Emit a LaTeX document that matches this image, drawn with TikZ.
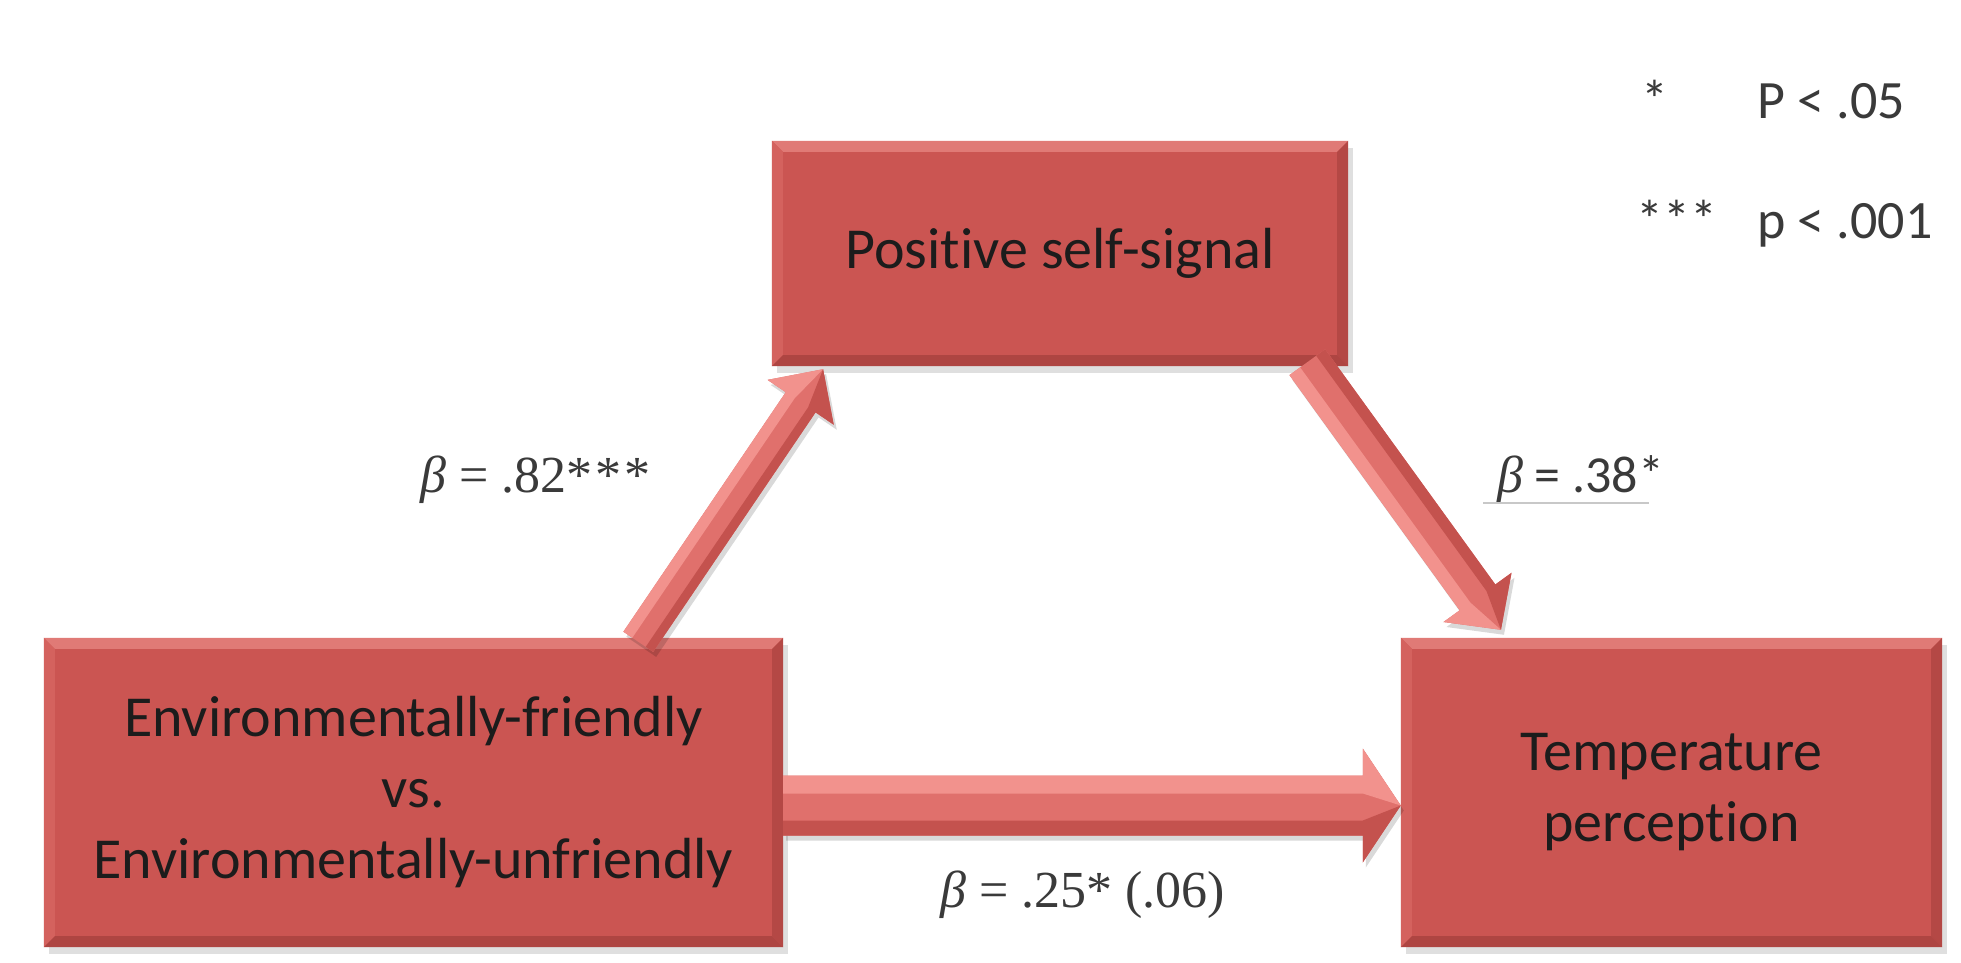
\documentclass[tikz,border=0pt]{standalone}
\usepackage{fontspec}
\setmainfont{Carlito}[Ligatures={NoCommon,NoRare,NoDiscretionary}]
\newfontfamily\lblfont{Liberation Serif}
\usetikzlibrary{calc,shadows}
\definecolor{boxred}{HTML}{CB5552}
\definecolor{bevtop}{HTML}{E07A76}
\definecolor{bevleft}{HTML}{D4625E}
\definecolor{bevright}{HTML}{B44845}
\definecolor{bevbot}{HTML}{AE4542}
\definecolor{arrlight}{HTML}{F2928D}
\definecolor{arrmid}{HTML}{E0706C}
\definecolor{arrdark}{HTML}{C4524E}
\definecolor{txtc}{HTML}{1C1C1C}
\definecolor{lblc}{HTML}{3A3A3A}
\definecolor{uline}{HTML}{C8C8C8}

\newcommand{\bevelbox}[2]{%
  \fill[bevtop] (#1.north west) -- (#1.north east) -- ([shift={(-#2,-#2)}]#1.north east) -- ([shift={(#2,-#2)}]#1.north west) -- cycle;
  \fill[bevleft] (#1.north west) -- ([shift={(#2,-#2)}]#1.north west) -- ([shift={(#2,#2)}]#1.south west) -- (#1.south west) -- cycle;
  \fill[bevright] (#1.north east) -- ([shift={(-#2,-#2)}]#1.north east) -- ([shift={(-#2,#2)}]#1.south east) -- (#1.south east) -- cycle;
  \fill[bevbot] (#1.south west) -- ([shift={(#2,#2)}]#1.south west) -- ([shift={(-#2,#2)}]#1.south east) -- (#1.south east) -- cycle;
}

% #1 from, #2 to, #3 shaft half width, #4 head half width, #5 head length, #6 light side (1 or -1)
\newcommand{\fatarrow}[6]{%
  \path let \p1=($(#2)-(#1)$) in \pgfextra{\pgfmathsetmacro\FAang{atan2(\y1,\x1)}\pgfmathsetmacro\FAlen{veclen(\x1,\y1)}\xdef\FAA{\FAang}\xdef\FAL{\FAlen}};
  \begin{scope}[shift={($(#1)+(3pt,-5pt)$)}, rotate=\FAA]
    \fill[black, opacity=.15] (0pt,#3) -- ({\FAL pt-#5},#3) -- ({\FAL pt-#5},#4) -- (\FAL pt,0pt) -- ({\FAL pt-#5},-#4) -- ({\FAL pt-#5},-#3) -- (0pt,-#3) -- cycle;
  \end{scope}
  \begin{scope}[shift={(#1)}, rotate=\FAA]
    \fill[arrmid] (0pt,#3) -- ({\FAL pt-#5},#3) -- ({\FAL pt-#5},#4) -- (\FAL pt,0pt) -- ({\FAL pt-#5},-#4) -- ({\FAL pt-#5},-#3) -- (0pt,-#3) -- cycle;
    \fill[arrlight] (0pt,{(#6)*#3}) -- ({\FAL pt-#5},{(#6)*#3}) -- ({\FAL pt-#5},{(#6)*#4}) -- (\FAL pt,0pt) -- ({\FAL pt-#5},{(#6)*0.4*#3}) -- (0pt,{(#6)*0.4*#3}) -- cycle;
    \fill[arrdark] (0pt,{-(#6)*#3}) -- ({\FAL pt-#5},{-(#6)*#3}) -- ({\FAL pt-#5},{-(#6)*#4}) -- (\FAL pt,0pt) -- ({\FAL pt-#5},{-(#6)*0.5*#3}) -- (0pt,{-(#6)*0.5*#3}) -- cycle;
  \end{scope}
}

\begin{document}
\begin{tikzpicture}[x=1pt,y=-1pt,
  redbox/.style={rectangle, fill=boxred, inner sep=0pt, align=center, text=txtc,
    font=\fontsize{58}{71}\selectfont,
    drop shadow={shadow xshift=5pt, shadow yshift=-7pt, opacity=.25}},
  lbl/.style={anchor=base west, inner sep=0pt, text=lblc, font=\fontsize{52}{60}\selectfont\lblfont},
  leg/.style={anchor=base west, inner sep=0pt, text=lblc, font=\fontsize{54}{60}\selectfont}]
\fill[white] (0,0) rectangle (1961,963);
\useasboundingbox (0,0) rectangle (1961,963);

\node[redbox, minimum width=739pt, minimum height=309pt] (env) at (413.5,792.5)
  {Environmentally-friendly\\vs.\\Environmentally-unfriendly};
\node[redbox, minimum width=576pt, minimum height=225pt] (pos) at (1060,253.5)
  {Positive self-signal};
\node[redbox, minimum width=541pt, minimum height=309pt] (temp) at (1671.5,792.5)
  {Temperature\\perception};
\bevelbox{env}{11pt}
\bevelbox{pos}{11pt}
\bevelbox{temp}{11pt}

\coordinate (u1) at ($(env.north west)!0.804!(env.north east)+(0pt,-4pt)$);
\coordinate (u2) at ($(pos.south west)!0.089!(pos.south east)+(0pt,-3pt)$);
\coordinate (d1) at ($(pos.south west)!0.929!(pos.south east)+(0pt,4pt)$);
\coordinate (d2) at ($(temp.north west)!0.185!(temp.north east)+(0pt,8pt)$);
\coordinate (h1) at ([yshift=-13pt]env.east);
\coordinate (h2) at ([yshift=-13pt]temp.west);

\fatarrow{u1}{u2}{18pt}{40pt}{40pt}{1}
\fatarrow{d1}{d2}{22pt}{42pt}{40pt}{-1}
\fatarrow{h1}{h2}{30pt}{57pt}{38pt}{1}

\node[lbl] (b82) at (420,492) {{\itshape β} = .82*\kern3pt*\kern3pt*};
\node[lbl, font=\fontsize{52}{60}\selectfont] (b38) at (1497,492) {{\lblfont\itshape β} = .38*};
\draw[uline, line width=2pt] ([shift={(-14pt,-11pt)}]b38.base west) -- ([shift={(-15pt,-11pt)}]b38.base east);
\node[lbl] (b25) at (940,907) {{\itshape β} = .25* (.06)};

\node[leg] (s1) at (1641,119) {*};
\node[leg] (t1) at (1757,119) {P < .05};
\node[leg] (s3) at (1636,238) {***};
\node[leg] (t3) at (1757,238) {p < .001};
\end{tikzpicture}
\end{document}
